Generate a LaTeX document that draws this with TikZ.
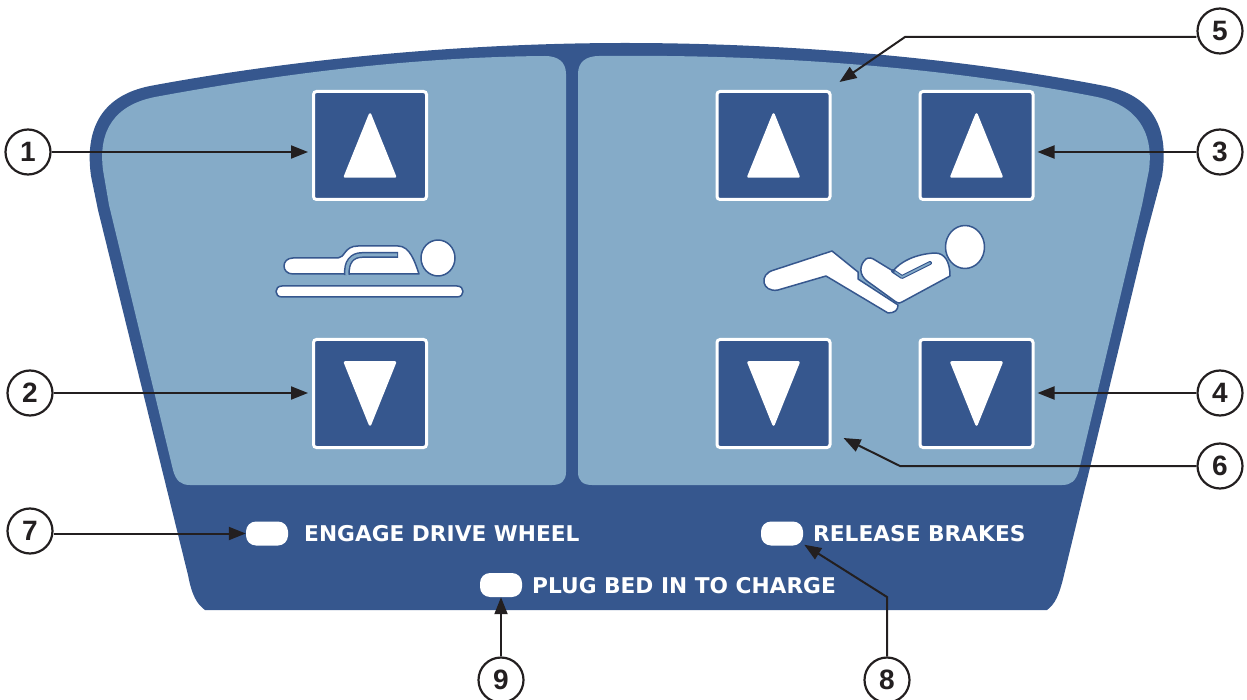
\documentclass[tikz,border=0pt]{standalone}
\usepackage{fontspec}
\setmainfont{Liberation Sans}
\newfontfamily\panelfont{DejaVu Sans}
\usetikzlibrary{arrows.meta}
\definecolor{dk}{HTML}{36578E}
\definecolor{lt}{HTML}{85ABC8}
\definecolor{ink}{HTML}{231F20}
\tikzset{
  btn/.style={draw=white,fill=dk,line width=3pt,rounded corners=3pt,minimum width=113pt,minimum height=108pt,inner sep=0pt},
  tri/.style={fill=white,draw=white,line width=2.5pt,line join=round},
  num/.style={circle,draw=ink,fill=white,line width=2.2pt,minimum size=45pt,inner sep=0pt,font=\bfseries\fontsize{28}{28}\selectfont,text=ink},
  led/.style={fill=white,rounded corners=10pt,minimum width=42pt,minimum height=24pt,inner sep=0pt},
  lbl/.style={text=white,anchor=west,inner sep=0pt,font=\panelfont\bfseries\fontsize{21.7}{22}\selectfont},
  conn/.style={draw=ink,line width=2pt,-{Triangle[length=17pt,width=13pt]}},
  fig/.style={fill=white,draw=dk,line width=1.5pt,line join=round},
  groove/.style={draw=dk,line width=6pt,line cap=round,line join=round},
  grooveinner/.style={draw=lt,line width=3pt,line cap=round,line join=round}
}
\begin{document}
\begin{tikzpicture}[x=1pt,y=-1pt]
\useasboundingbox (0,0) rectangle (1247,700);
% housing
\fill[dk] (205,610) .. controls (197,604) and (192,596) .. (188,575)
  -- (98,210) -- (91,176) .. controls (84,125) and (105,95) .. (150,86)
  .. controls (300,58) and (470,43) .. (625,43)
  .. controls (790,43) and (960,58) .. (1105,86)
  .. controls (1150,95) and (1170,125) .. (1162,176)
  -- (1145,240) -- (1064,575) .. controls (1059,596) and (1055,604) .. (1047,610) -- cycle;
% left panel
\fill[lt] (566,74) -- (566,472) .. controls (566,481) and (561,485) .. (552,485)
  -- (190,485) .. controls (181,485) and (176,481) .. (173,470)
  -- (109,205) -- (103,170) .. controls (98,130) and (115,105) .. (155,97)
  .. controls (290,72) and (420,57) .. (545,56) .. controls (558,56) and (566,62) .. (566,74) -- cycle;
% right panel
\fill[lt] (578,74) -- (578,472) .. controls (578,481) and (583,485) .. (592,485)
  -- (1062,485) .. controls (1071,485) and (1076,481) .. (1079,470)
  -- (1142,205) -- (1149,170) .. controls (1154,130) and (1135,105) .. (1097,97)
  .. controls (950,68) and (780,54) .. (599,56) .. controls (586,56) and (578,62) .. (578,74) -- cycle;
% buttons
\node[btn] (b1) at (370,145.5) {};
\node[btn] (b2) at (370,393.5) {};
\node[btn] (b5) at (773.5,145.5) {};
\node[btn] (b3) at (976.5,145.5) {};
\node[btn] (b6) at (773.5,393.5) {};
\node[btn] (b4) at (976.5,393.5) {};
\foreach \c in {370,773.5,976.5}{
  \draw[tri] (\c,114.5) -- (\c+25,176.5) -- (\c-25,176.5) -- cycle;
  \draw[tri] (\c,424.5) -- (\c+25,362.5) -- (\c-25,362.5) -- cycle;
}
% lying figure
\draw[fig] (293,258) -- (338,258) .. controls (345,258) and (344,246) .. (358,246) -- (398,246)
  .. controls (410,246) and (415,262) .. (419,274) -- (293,274)
  .. controls (281,274) and (281,258) .. (293,258) -- cycle;
\path[groove,line cap=butt] (398,255) -- (362,255) .. controls (352,255) and (346,262) .. (347,275);
\path[grooveinner,line cap=butt] (397,255) -- (362,255) .. controls (352,255) and (346,262) .. (347,275);
\draw[fig] (282,286) -- (457,286) .. controls (465,286) and (465,297) .. (457,297) -- (282,297)
  .. controls (274,297) and (274,286) .. (282,286) -- cycle;
\draw[fig] (438,258) ellipse (17 and 18);
% reclined figure
\draw[fig] (774,270) -- (832,251) -- (858,272) -- (858,279) -- (898,305) .. controls (898,310) and (895,313) .. (888,313)
  -- (826,276) -- (778,290) .. controls (762,293) and (758,274) .. (774,270) -- cycle;
\draw[fig] (866,259) .. controls (869,257) and (872,258) .. (875,260) -- (893,271)
  .. controls (900,262) and (915,254) .. (935,253) .. controls (945,253) and (950,262) .. (950,276)
  -- (902,302) .. controls (900,304) and (898,303) .. (896,302) -- (867,281)
  .. controls (859,275) and (859,265) .. (866,259) -- cycle;
\path[groove,line width=4pt] (893,271) -- (902,277) -- (930,263);
\path[grooveinner,line width=1.6pt] (895,272) -- (902,277) -- (930,263);
\draw[fig] (965,247) ellipse (19.5 and 21.5);
% indicators
\node[led] (l7) at (267,533.5) {};
\node[led] (l8) at (782,533.5) {};
\node[led] (l9) at (501,585) {};
\node[lbl] at (304,534) {ENGAGE DRIVE WHEEL};
\node[lbl] at (813,534) {RELEASE BRAKES};
\node[lbl] at (532,586) {PLUG BED IN TO CHARGE};
% numbers
\node[num] (n1) at (28,152) {1};
\node[num] (n2) at (30,393) {2};
\node[num] (n3) at (1220,152) {3};
\node[num] (n4) at (1220,393) {4};
\node[num] (n5) at (1220,31) {5};
\node[num] (n6) at (1220,466) {6};
\node[num] (n7) at (30,531) {7};
\node[num] (n8) at (887,680) {8};
\node[num] (n9) at (501,680) {9};
% connectors
\coordinate (k5) at (905,37);
\coordinate (k6) at (900,466);
\coordinate (k8) at (887,597);
\draw[conn] (n1) -- ([xshift=-4pt]b1.west |- n1);
\draw[conn] (n2) -- ([xshift=-4pt]b2.west |- n2);
\draw[conn] (n3) -- ([xshift=3pt]b3.east |- n3);
\draw[conn] (n4) -- ([xshift=3pt]b4.east |- n4);
\draw[conn] (n5.west |- k5) -- (k5) -- ([shift={(8pt,8pt)}]b5.north east);
\draw[conn] (n6) -- (k6) -- ([shift={(12pt,11pt)}]b6.south east);
\draw[conn] (n7.east |- l7) -- (l7.west);
\draw[conn] (n8) -- (k8) -- ([shift={(1pt,1pt)}]l8.south east);
\draw[conn] (n9) -- (l9.south);
\end{tikzpicture}
\end{document}
